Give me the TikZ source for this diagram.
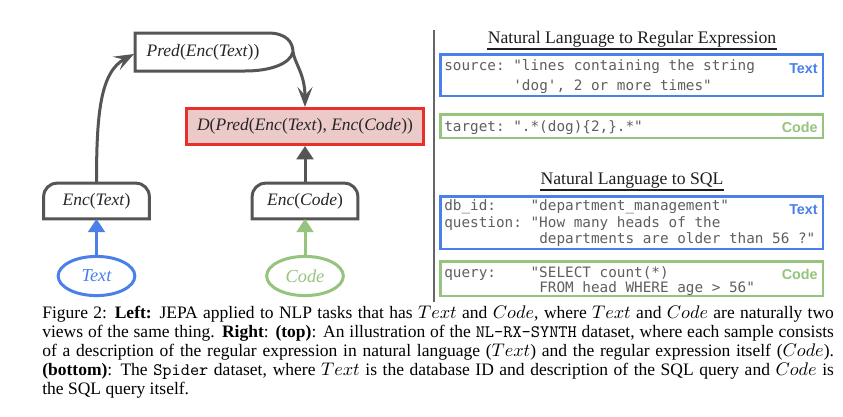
\documentclass[tikz,border=0pt]{standalone}
\usepackage{fontspec}
\setmainfont{Liberation Serif}
\newfontfamily\monof{DejaVu Sans Mono}
\newfontfamily\labf{Liberation Sans}
\usetikzlibrary{arrows.meta,shapes.geometric,fit}
\definecolor{dk}{RGB}{85,85,85}
\definecolor{rd}{RGB}{232,48,42}
\definecolor{pk}{RGB}{236,202,202}
\definecolor{bl}{RGB}{74,128,232}
\definecolor{gr}{RGB}{150,195,125}
\definecolor{tx}{RGB}{95,95,95}
\definecolor{ttl}{RGB}{30,30,30}
\begin{document}
\begin{tikzpicture}[x=0.6pt,y=-0.6pt,
  lbl/.style={font=\fontsize{10.5}{12}\selectfont, inner sep=0pt, text=black!85},
  shapeline/.style={draw=dk, line width=1.8pt},
  encnode/.style={lbl, minimum width=63pt, minimum height=21pt},
  barb/.style={draw=dk, line width=1.8pt, -{Stealth[length=12pt,width=9pt,inset=5pt]}},
  tri/.style={line width=1.8pt, -{Triangle[length=8pt,width=10pt]}},
  view/.style={ellipse, line width=1.8pt, minimum width=46pt, minimum height=23.5pt, inner sep=0pt, font=\fontsize{11}{12}\selectfont\itshape},
  rbox/.style={line width=1.5pt, inner sep=-0.75pt},
  mono/.style={font=\monof\fontsize{8.6}{10}\selectfont, text=tx, inner sep=0pt, anchor=base west},
  tag/.style={font=\labf\bfseries\fontsize{8.6}{10}\selectfont, inner sep=0pt, anchor=base east},
  ttlnode/.style={font=\fontsize{10.6}{12}\selectfont, text=ttl, inner sep=0pt, anchor=base},
  uline/.style={draw=ttl, line width=0.8pt}
]
\useasboundingbox (0,0) rectangle (843,417);
\fill[white] (0,0) rectangle (843,417);

% ---------------- left diagram ----------------
\node[lbl] (pred) at (203,52) {\textit{Pred}(\textit{Enc}(\textit{Text}))};
\draw[shapeline, fill=white] (135,33) -- (268,33) .. controls (286,33) and (293,42) .. (293,52)
   .. controls (290,64) and (270,71) .. (245,71) -- (135,71) -- cycle;
\node[lbl] at (pred) {\textit{Pred}(\textit{Enc}(\textit{Text}))};
\coordinate (predtip) at (293,52);
\coordinate (predin) at (134,54);

\node[lbl, draw=rd, fill=pk, line width=1.8pt, minimum width=142pt, minimum height=21.6pt] (d) at (305,126.5)
  {\textit{D}(\textit{Pred}(\textit{Enc}(\textit{Text}), \textit{Enc}(\textit{Code}))};

\node[encnode] (e1) at (96.5,201) {\textit{Enc}(\textit{Text})};
\node[encnode] (e2) at (305,201) {\textit{Enc}(\textit{Code})};
\foreach \n in {e1,e2}{
  \draw[shapeline] (\n.south west) -- ([yshift=-8pt]\n.north west) arc[start angle=180,end angle=90,radius=8pt]
    -- ([xshift=-8pt]\n.north east) arc[start angle=90,end angle=0,radius=8pt] -- (\n.south east) -- cycle;
}

\node[view, draw=bl, text=bl] (t) at (96.5,276) {Text};
\node[view, draw=gr, text=gr] (c) at (305,276) {Code};

\draw[tri, draw=bl, fill=bl] (t.north) -- (e1.south);
\draw[tri, draw=gr, fill=gr] (c.north) -- (e2.south);
\draw[tri, draw=dk, fill=dk] (e2.north) -- (d.south);
\draw[barb] (e1.north) .. controls (96.5,115) and (100,72) .. (predin);
\draw[barb] (predtip) .. controls (295,64) and (305,74) .. (d.north);

% ---------------- separator ----------------
\coordinate (septop) at (434,30);
\coordinate (sepbot) at (434,302);
\draw[line width=1.5pt, draw=black!60] (septop) -- (sepbot);

% ---------------- right panel: regex ----------------
\node[ttlnode] (t1) at (632,43) {Natural Language to Regular Expression};
\draw[uline] ([yshift=-3.6pt]t1.base west) -- ([yshift=-3.6pt]t1.base east);

\node[rbox, draw=bl, fit={(439,53) (824,97)}] (b1) {};
\node[mono] (s1) at (444,70) {source:~\textquotedbl lines~containing~the~string};
\node[mono] (s2) at (444,90) {~~~~~~~~\textquotesingle dog\textquotesingle,~2~or~more~times\textquotedbl};
\node[tag, text=bl] (b1t) at (818,73) {Text};

\node[rbox, draw=gr, fit={(439,113) (824,139)}] (g1) {};
\node[mono] (s3) at (444,131) {target:~\textquotedbl.*(dog)\{2,\}.*\textquotedbl};
\node[tag, text=gr] (g1t) at (818,132) {Code};

% ---------------- right panel: SQL ----------------
\node[ttlnode] (t2) at (632,184) {Natural Language to SQL};
\draw[uline] ([yshift=-3.6pt]t2.base west) -- ([yshift=-3.6pt]t2.base east);

\node[rbox, draw=bl, fit={(439,195) (824,250)}] (b2) {};
\node[mono] (q1) at (444,210) {db\_id:~~~~\textquotedbl department\_management\textquotedbl};
\node[mono] (q2) at (444,227) {question:~\textquotedbl How~many~heads~of~the};
\node[mono] (q3) at (444,243) {~~~~~~~~~~~departments~are~older~than~56~?\textquotedbl};
\node[tag, text=bl] (b2t) at (818,214) {Text};

\node[rbox, draw=gr, fit={(439,260) (824,297)}] (g2) {};
\node[mono] (q4) at (444,277) {query:~~~~\textquotedbl SELECT~count(*)};
\node[mono] (q5) at (444,292) {~~~~~~~~~~~FROM~head~WHERE~age~>~56\textquotedbl};
\node[tag, text=gr] (g2t) at (818,279) {Code};

% ---------------- caption ----------------
\node[anchor=north west, inner sep=0pt, text width=475pt, align=justify,
      font=\fontsize{10.5}{11.4}\selectfont] (cap) at (42,305) {\noindent
Figure 2: \textbf{Left:} JEPA applied to NLP tasks that has $Text$ and $Code$, where $Text$ and $Code$ are naturally two\linebreak
views of the same thing. \textbf{Right}: \textbf{(top)}: An illustration of the \texttt{NL-RX-SYNTH} dataset, where each sample consists\linebreak
of a description of the regular expression in natural language ($Text$) and the regular expression itself ($Code$).\linebreak
\textbf{(bottom)}: The \texttt{Spider} dataset, where $Text$ is the database ID and description of the SQL query and $Code$ is\linebreak
the SQL query itself.};
\end{tikzpicture}
\end{document}
